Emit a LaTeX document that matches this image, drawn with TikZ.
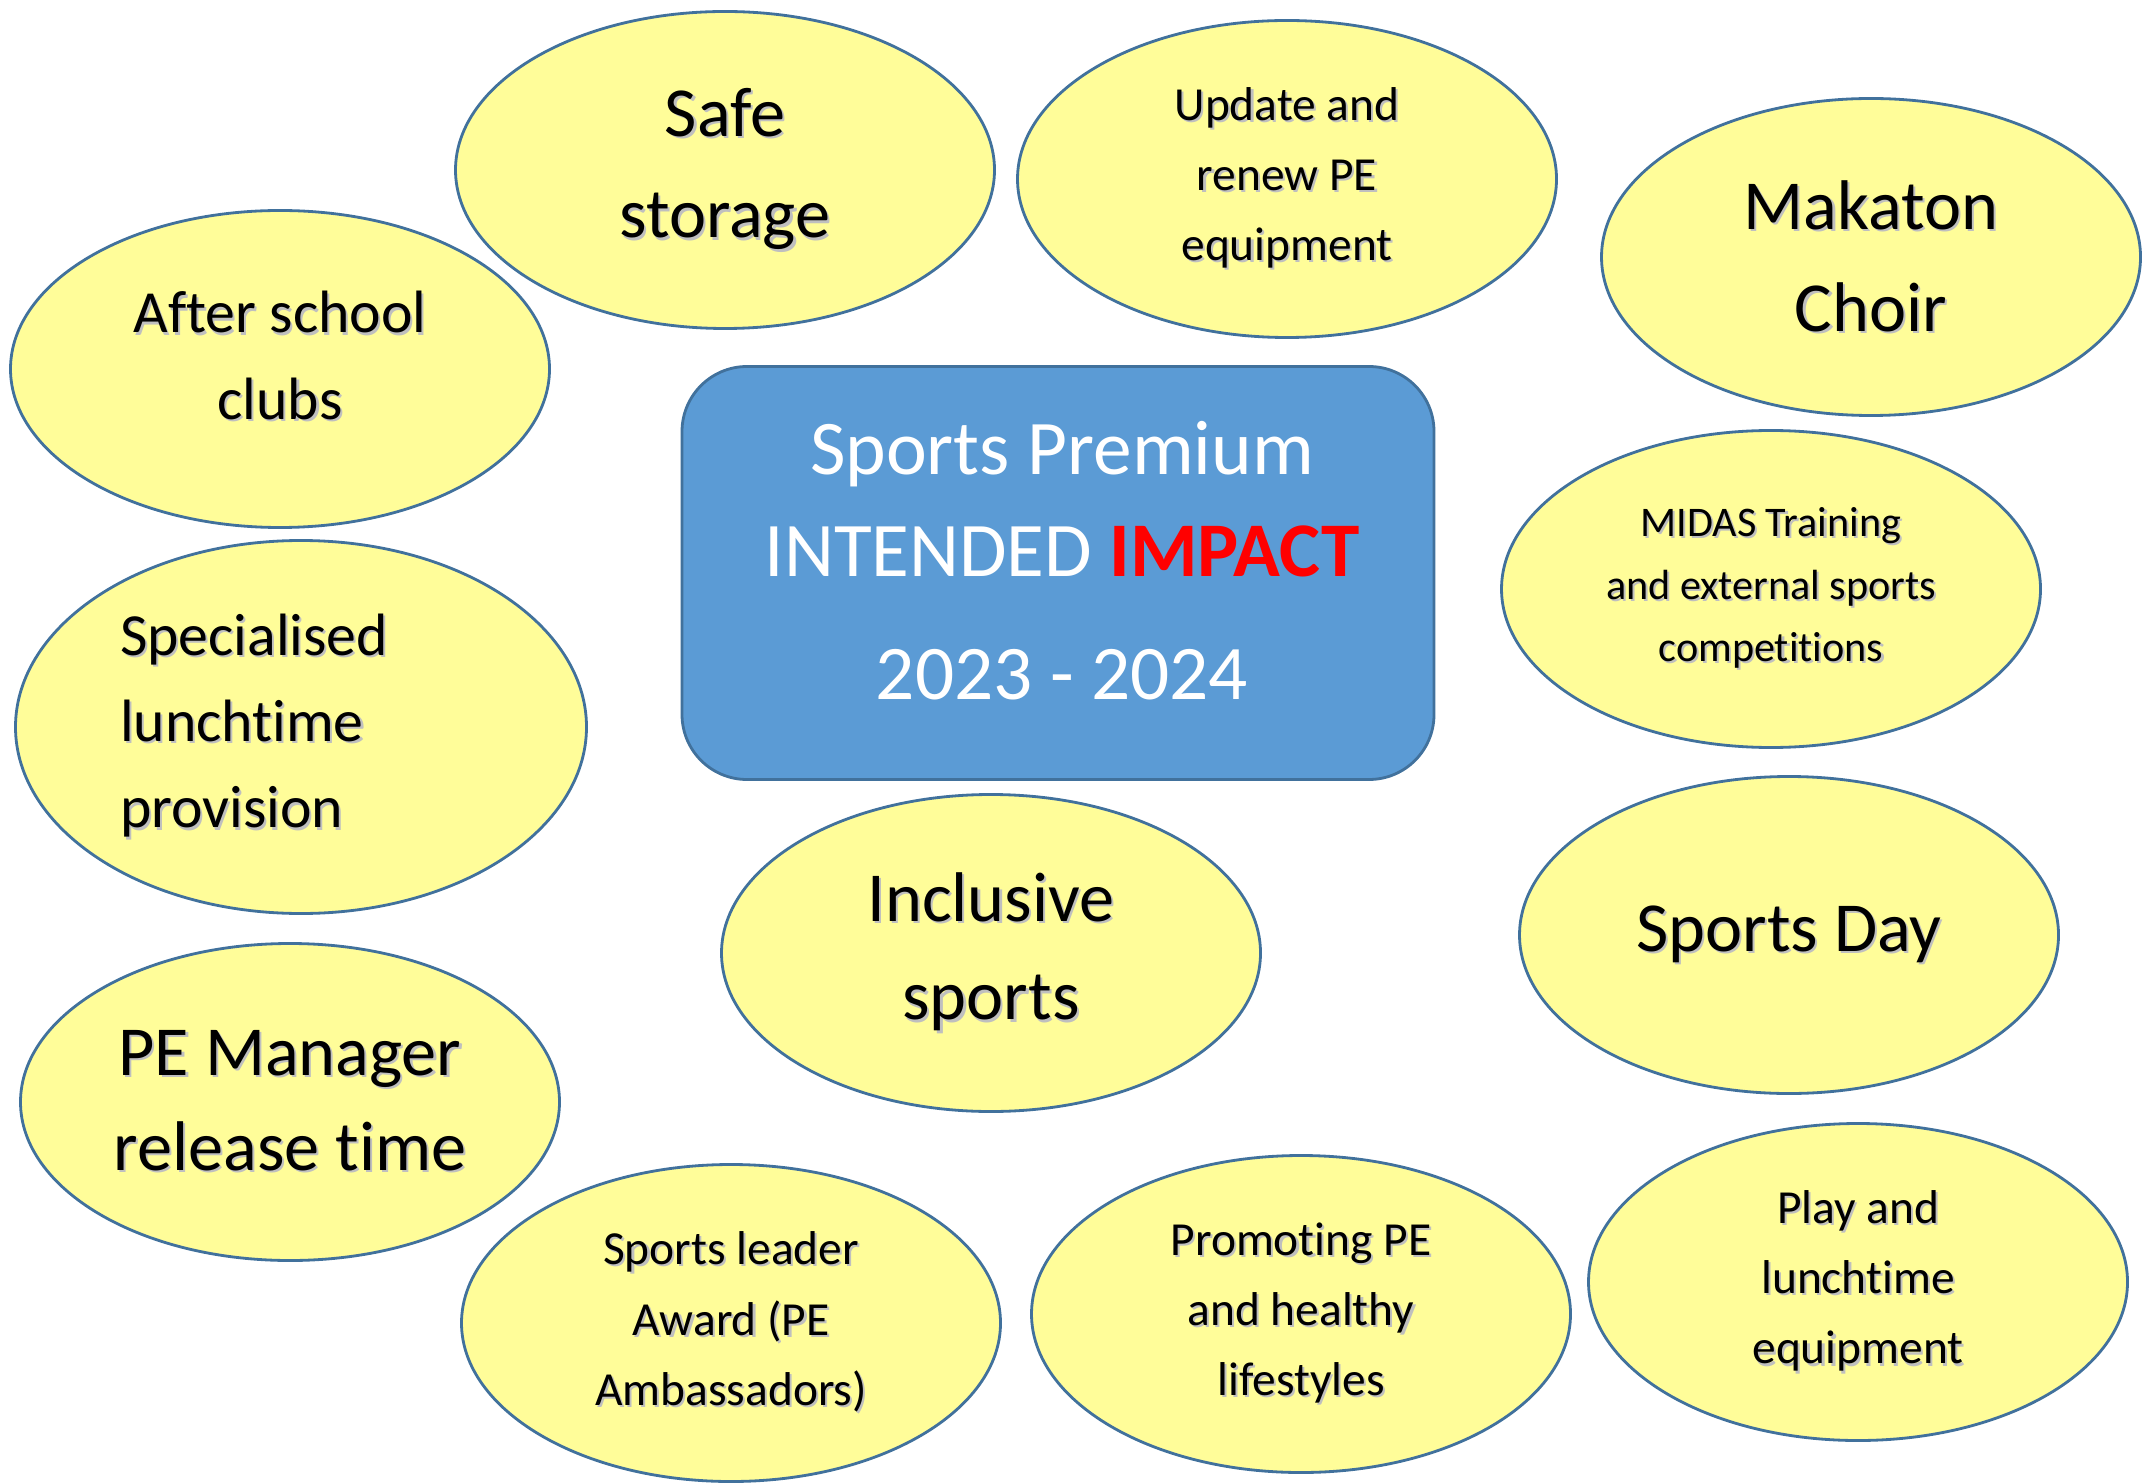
\documentclass[tikz,border=0pt]{standalone}
\usepackage{fontspec}
\setmainfont{Carlito}[Ligatures=NoCommon]
\usetikzlibrary{shapes.geometric}

% soft grey drop shadow behind one line of text
\newcommand{\shd}[1]{\leavevmode\rlap{\kern0.6pt\raisebox{-0.6pt}{\textcolor{black!25}{#1}}}#1}

\begin{document}
\begin{tikzpicture}
        % Define colors
        \definecolor{bubblefill}{RGB}{255, 253, 153}  % Pale Yellow
        \definecolor{bubbleline}{RGB}{65, 113, 156}   % Dark Steel Blue
        \definecolor{hubfill}{RGB}{91, 155, 213}      % Sky Blue
        \definecolor{impactred}{RGB}{255, 0, 0}       % Red

        \tikzset{
          bubble/.style={ellipse, draw=bubbleline, fill=bubblefill, line width=0.8pt,
                         minimum width=5.39cm, minimum height=3.17cm, inner sep=0pt, align=center},
          bigtext/.style={font=\fontsize{20}{29}\selectfont},
          midtext/.style={font=\fontsize{17}{24.5}\selectfont},
          smalltext/.style={font=\fontsize{13.5}{20}\selectfont},
          tinytext/.style={font=\fontsize{12}{17.8}\selectfont},
          hubbox/.style={rectangle, rounded corners=0.65cm, draw=bubbleline, fill=hubfill,
                         line width=0.8pt, minimum width=7.52cm, minimum height=4.13cm},
          hubtext/.style={text=white, align=center, font=\fontsize{22}{29}\selectfont}
        }

        \useasboundingbox (0,0) rectangle (21.43,14.83);

        % Draw central box
        \node[hubbox] (hub) at (10.58,9.10) {};
        \node[hubtext] (title) at (10.62,9.22) {Sports Premium\\INTENDED \textcolor{impactred}{\textbf{IMPACT}}\\[6pt]2023 - 2024};

        % Draw top row of bubbles
        \node[bubble, bigtext] (storage) at (7.25,13.13) {\shd{Safe}\\\shd{storage}};
        \node[bubble, smalltext] (equipment) at (12.87,13.04) {\shd{Update and}\\\shd{renew PE}\\\shd{equipment}};
        \node[bubble, bigtext] (choir) at (18.71,12.26) {\shd{Makaton}\\\shd{Choir}};

        % Draw left column of bubbles
        \node[bubble, midtext] (clubs) at (2.80,11.14) {\shd{After school}\\\shd{clubs}\\[-24pt]\strut};
        \node[bubble, midtext, minimum width=5.71cm, minimum height=3.73cm,
              text width=3.62cm, align=left] (lunchtime) at (3.01,7.56)
              {\shd{Specialised}\\\shd{lunchtime}\\\shd{provision}};
        \node[bubble, bigtext] (manager) at (2.90,3.81) {\shd{PE Manager}\\[-2pt]\shd{release time}};

        % Draw middle and right bubbles
        \node[bubble, tinytext] (midas) at (17.71,8.94) {\shd{MIDAS Training}\\\shd{and external sports}\\\shd{competitions}};
        \node[bubble, bigtext] (inclusive) at (9.91,5.30) {\shd{Inclusive}\\[-1pt]\shd{sports}};
        \node[bubble, bigtext] (sportsday) at (17.89,5.48) {\shd{Sports Day}};

        % Draw bottom row of bubbles
        \node[bubble, smalltext] (leader) at (7.31,1.60) {\shd{Sports leader}\\\shd{Award (PE}\\\shd{Ambassadors)}};
        \node[bubble, smalltext] (promoting) at (13.01,1.69) {\shd{Promoting PE}\\\shd{and healthy}\\\shd{lifestyles}};
        \node[bubble, smalltext] (play) at (18.58,2.01) {\shd{Play and}\\\shd{lunchtime}\\\shd{equipment}};

    \end{tikzpicture}
\end{document}
